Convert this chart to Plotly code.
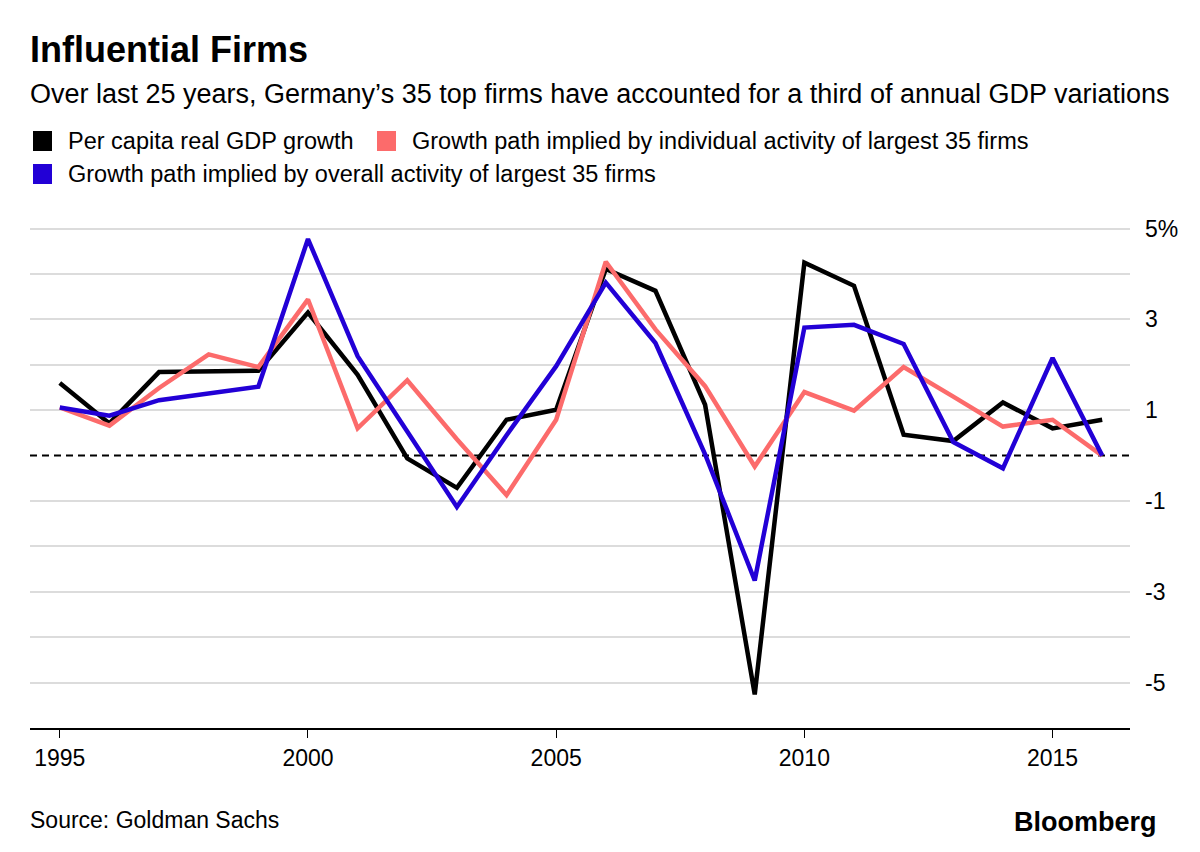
import plotly.graph_objects as go

years = list(range(1995, 2017))
gdp_growth = [1.6, 0.71, 1.84, 1.86, 1.87, 3.15, 1.78, -0.06, -0.71, 0.79, 1.01, 4.11,
              3.63, 1.12, -5.26, 4.25, 3.74, 0.46, 0.32, 1.17, 0.6, 0.79]
individual_path = [1.06, 0.66, 1.49, 2.23, 1.95, 3.44, 0.6, 1.66, 0.36, -0.87, 0.79, 4.27,
                   2.78, 1.53, -0.24, 1.4, 0.99, 1.95, 1.3, 0.64, 0.79, 0.0]
overall_path = [1.06, 0.88, 1.22, 1.36, 1.52, 4.77, 2.19, 0.53, -1.13, 0.45, 1.97, 3.81,
                2.48, 0.03, -2.75, 2.82, 2.88, 2.46, 0.3, -0.28, 2.15, 0.0]

series_names = ["Per capita real GDP growth",
                "Growth path implied by individual activity of largest 35 firms",
                "Growth path implied by overall activity of largest 35 firms"]
colors = ["#000000", "#fc6b6b", "#2200d6"]

grid_vals = [-6, -5, -4, -3, -2, -1, 1, 2, 3, 4, 5]
grid_text = ["", "-5", "", "-3", "", "-1", "1", "", "3", "", "5%"]
xtick_vals = [1995, 2000, 2005, 2010, 2015]

FONT = "Liberation Sans, Arial, Helvetica, sans-serif"

# page offset (html body margin) is 8px; plot area in page coords: x 30..1130, y 215..728
def px(X):
    return (X - 30) / 1100

def py(Y):
    return (728 - Y) / 513

fig = go.Figure()
for vals, name, col in [(gdp_growth, series_names[0], colors[0]),
                        (individual_path, series_names[1], colors[1]),
                        (overall_path, series_names[2], colors[2])]:
    fig.add_trace(go.Scatter(x=years, y=vals, mode="lines", name=name,
                             line=dict(color=col, width=4.5), showlegend=False))

fig.add_shape(type="line", xref="paper", yref="y", x0=0, x1=1, y0=0, y1=0,
              line=dict(color="black", width=2, dash="7px,5px"), layer="below")

fig.update_layout(
    width=1192, height=844,
    margin=dict(l=22, r=70, t=207, b=124),
    paper_bgcolor="white", plot_bgcolor="white",
    font=dict(family=FONT, color="#000000"),
    xaxis=dict(range=[1994.4, 2016.56], tickvals=xtick_vals, showgrid=False,
               zeroline=False, showline=True, linecolor="black", linewidth=2,
               ticks="outside", ticklen=8, tickwidth=1, tickcolor="black",
               tickfont=dict(size=23, family=FONT), fixedrange=True),
    yaxis=dict(range=[-6, 5.3], side="right", tickvals=grid_vals, ticktext=grid_text,
               showgrid=True, gridcolor="#dcdcdc", gridwidth=2, zeroline=False,
               ticks="", ticklabelstandoff=14, tickfont=dict(size=23, family=FONT),
               fixedrange=True),
)

# Title and subtitle
fig.add_annotation(text="<b>Influential Firms</b>", xref="paper", yref="paper",
                   x=px(28), y=py(50), xanchor="left", yanchor="middle",
                   showarrow=False, font=dict(size=36, family=FONT))
fig.add_annotation(text="Over last 25 years, Germany\u2019s 35 top firms have accounted for a third of annual GDP variations",
                   xref="paper", yref="paper", x=px(28), y=py(94), xanchor="left",
                   yanchor="middle", showarrow=False, font=dict(size=27, family=FONT))

# Legend (manual)
legend_items = [(series_names[0], colors[0], 33, 141),
                (series_names[1], colors[1], 377, 141),
                (series_names[2], colors[2], 33, 174)]
for name, col, lx, ly in legend_items:
    fig.add_shape(type="rect", xref="paper", yref="paper",
                  x0=px(lx), x1=px(lx + 19), y0=py(ly + 10), y1=py(ly - 10),
                  fillcolor=col, line=dict(width=0))
    fig.add_annotation(text=name, xref="paper", yref="paper",
                       x=px(lx + 33), y=py(ly), xanchor="left", yanchor="middle",
                       showarrow=False, font=dict(size=23.5, family=FONT))

# Source & brand
fig.add_annotation(text="Source: Goldman Sachs", xref="paper", yref="paper",
                   x=px(28), y=py(820), xanchor="left", yanchor="middle",
                   showarrow=False, font=dict(size=23, family=FONT))
fig.add_annotation(text="<b>Bloomberg</b>", xref="paper", yref="paper",
                   x=px(1159), y=py(822), xanchor="right", yanchor="middle",
                   showarrow=False, font=dict(size=27, family=FONT))

fig.write_html("out.html")
